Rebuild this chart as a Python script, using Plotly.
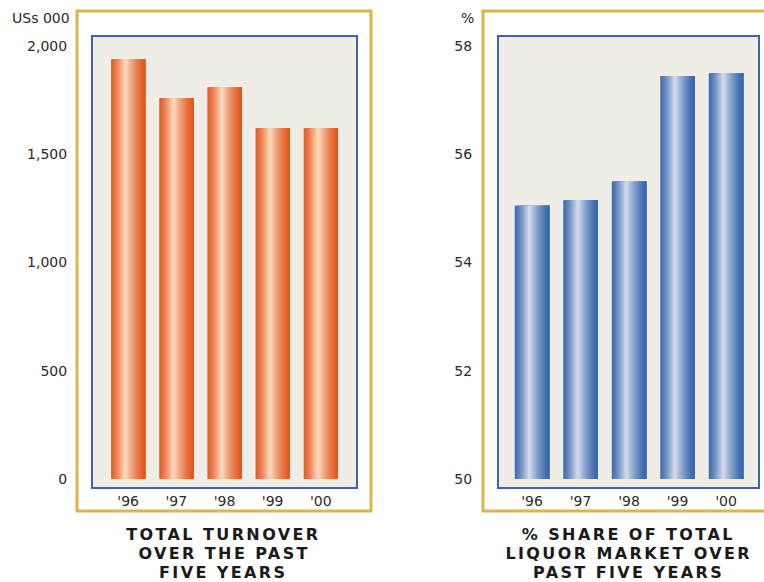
import plotly.graph_objects as go

# ---- data ----
years = ["'96", "'97", "'98", "'99", "'00"]
turnover = [1940, 1760, 1810, 1620, 1620]          # US$ 000
share = [55.05, 55.15, 55.5, 57.45, 57.5]          # % share
turnover_ticks = [0, 500, 1000, 1500, 2000]
share_ticks = [50, 52, 54, 56, 58]
share_base = 50
title_left = ["TOTAL TURNOVER", "OVER THE PAST", "FIVE YEARS"]
title_right = ["% SHARE OF TOTAL", "LIQUOR MARKET OVER", "PAST FIVE YEARS"]

W, H = 764, 582
def px(x): return x / W
def py(y): return 1 - y / H

def hex2rgb(h):
    h = h.lstrip('#')
    return [int(h[i:i + 2], 16) for i in (0, 2, 4)]

def mix(c1, c2, a):
    a1, a2 = hex2rgb(c1), hex2rgb(c2)
    return 'rgb(%d,%d,%d)' % tuple(round(a1[k] + (a2[k] - a1[k]) * a) for k in range(3))

def profile(t):
    # cylinder highlight, slightly left of centre
    if t < 0.42:
        v = 1 - (0.42 - t) / 0.42 * 0.9
    else:
        v = 1 - (t - 0.42) / 0.58
    return max(0.0, v) ** 1.4

N = 26
BW = 0.71

fig = go.Figure()

def add_bars(vals, dark, light, xa, ya, base=None):
    for i in range(N):
        start = -BW / 2 + i * BW / N
        t = (i + 0.5) / N
        col = mix(dark, light, profile(t))
        fig.add_trace(go.Bar(
            x=years, y=vals, base=base, offset=start, width=BW / 2 - start,
            marker=dict(color=col, line=dict(width=0)),
            xaxis=xa, yaxis=ya, showlegend=False, hoverinfo='skip'))

add_bars(turnover, '#E2571F', '#FDDCC3', 'x', 'y')
add_bars([s - share_base for s in share], '#3867AC', '#D8DEEF', 'x2', 'y2', base=share_base)

axis_line = dict(showline=True, mirror=True, linecolor='#3F63AE', linewidth=2,
                 showgrid=False, zeroline=False, ticks='')
tickfont = dict(family='DejaVu Sans', size=14, color='#2a2a2a')

fig.update_layout(
    width=W, height=H,
    margin=dict(l=0, r=0, t=0, b=0),
    paper_bgcolor='white', plot_bgcolor='#F0ECE6',
    barmode='overlay', showlegend=False,
    xaxis=dict(domain=[px(93), px(356)], range=[-0.73, 4.73], type='category',
               anchor='y', tickfont=tickfont, **axis_line),
    yaxis=dict(domain=[py(487), py(37)], range=[-37, 2042], tickvals=turnover_ticks,
               tickformat=',', anchor='x', tickfont=tickfont, ticklabelstandoff=21,
               **axis_line),
    xaxis2=dict(domain=[px(499), px(758)], range=[-0.68, 4.66], type='category',
                anchor='y2', tickfont=tickfont, **axis_line),
    yaxis2=dict(domain=[py(487), py(37)], range=[49.85, 58.17], tickvals=share_ticks,
                anchor='x2', tickfont=tickfont, ticklabelstandoff=22, **axis_line),
)

gold = '#DDB44A'
fig.add_shape(type='rect', xref='paper', yref='paper', x0=px(77), x1=px(371),
              y0=py(511), y1=py(11), line=dict(color=gold, width=3))
fig.add_shape(type='rect', xref='paper', yref='paper', x0=px(483), x1=px(790),
              y0=py(511), y1=py(11), line=dict(color=gold, width=3))

fig.add_annotation(text='USs 000', xref='paper', yref='paper', x=px(72), y=py(18),
                   xanchor='right', yanchor='middle', showarrow=False, font=tickfont)
fig.add_annotation(text='%', xref='paper', yref='paper', x=px(476), y=py(18),
                   xanchor='right', yanchor='middle', showarrow=False, font=tickfont)

title_font = dict(family='DejaVu Sans', size=16, color='#1a1a1a', weight='bold')
for lines, cx in ((title_left, 224), (title_right, 628)):
    for j, line in enumerate(lines):
        fig.add_annotation(text=line, xref='paper', yref='paper', x=px(cx),
                           y=py(534 + j * 19), xanchor='center', yanchor='middle',
                           showarrow=False, font=title_font)

post = """
document.body.style.margin = '0';
document.body.style.overflow = 'hidden';
document.querySelectorAll('text.annotation-text').forEach(function(t){
  if (t.style.fontSize === '16px') { t.setAttribute('letter-spacing', '2.4px'); }
});
"""
fig.write_html("out.html", post_script=post, config={'displayModeBar': False})
